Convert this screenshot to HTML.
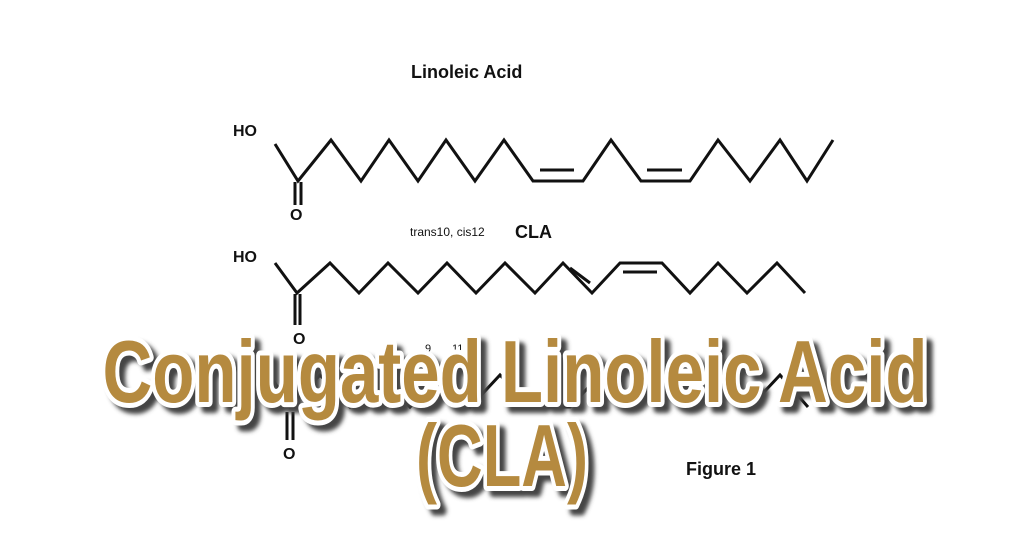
<!DOCTYPE html>
<html><head><meta charset="utf-8"><style>
html,body{margin:0;padding:0;background:#fff;}
svg{display:block}
</style></head><body>
<svg width="1024" height="538" viewBox="0 0 1024 538" xmlns="http://www.w3.org/2000/svg">
<defs><filter id="b" x="-5%" y="-20%" width="110%" height="140%"><feGaussianBlur stdDeviation="2"/></filter></defs>
<g font-family="Liberation Sans, Arial, sans-serif" fill="#111">
<text x="411" y="78" font-size="18" font-weight="bold">Linoleic Acid</text>
<text x="233" y="136" font-size="16" font-weight="bold">HO</text>
<text x="290" y="220" font-size="16" font-weight="bold">O</text>
<text x="410" y="236" font-size="12">trans10, cis12</text>
<text x="515" y="238" font-size="18" font-weight="bold">CLA</text>
<text x="233" y="262" font-size="16" font-weight="bold">HO</text>
<text x="293" y="344" font-size="16" font-weight="bold">O</text>
<text x="283" y="459" font-size="16" font-weight="bold">O</text>
<text x="686" y="475" font-size="18" font-weight="bold">Figure 1</text>
<text x="425" y="352" font-size="11">9</text>
<text x="452" y="352" font-size="11">11</text>
</g>
<g stroke="#111" stroke-width="3" fill="none" stroke-linejoin="miter">
<polyline points="275,144 298,181 331,140 361,181 389,140 418,181 446,140 475,181 504,140 533,181 583,181 611,140 641,181 690,181 718,140 750,181 780,140 807,181 833,140"/>
<line x1="540" y1="170" x2="574" y2="170"/>
<line x1="647" y1="170" x2="682" y2="170"/>
<line x1="295" y1="182" x2="295" y2="205"/>
<line x1="301" y1="182" x2="301" y2="205"/>
<polyline points="275,263 297,293 330,263 359,293 388,263 418,293 447,263 476,293 505,263 535,293 563,263 592,293 620,263 662,263 690,293 718,263 747,293 777,263 805,293"/>
<line x1="570" y1="268" x2="590" y2="283"/>
<line x1="623" y1="272" x2="657" y2="272"/>
<line x1="295" y1="294" x2="295" y2="325"/>
<line x1="300" y1="294" x2="300" y2="325"/>
<polyline points="270,375 290,407 320,375 350,407 380,375 410,407 440,375 470,407 500,375 530,407 570,407 600,375 630,407 660,375 690,407 720,375 750,407 780,375 808,407"/>
<line x1="287" y1="412" x2="287" y2="440"/>
<line x1="293" y1="412" x2="293" y2="440"/>
</g>
<g font-family="Liberation Sans, DejaVu Sans, sans-serif" font-weight="bold" font-size="88" text-anchor="middle">
<g fill="#444" stroke="#444" stroke-width="10" stroke-linejoin="round" transform="translate(6,6)" filter="url(#b)">
<text x="515" y="402" textLength="825" lengthAdjust="spacingAndGlyphs">Conjugated Linoleic Acid</text>
<text x="502" y="486" textLength="172" lengthAdjust="spacingAndGlyphs">(CLA)</text>
</g>
<g fill="#b58a3f" stroke="#fff" stroke-width="10" stroke-linejoin="round" paint-order="stroke">
<text x="515" y="402" textLength="825" lengthAdjust="spacingAndGlyphs">Conjugated Linoleic Acid</text>
<text x="502" y="486" textLength="172" lengthAdjust="spacingAndGlyphs">(CLA)</text>
</g>
</g>
</svg>
</body></html>
